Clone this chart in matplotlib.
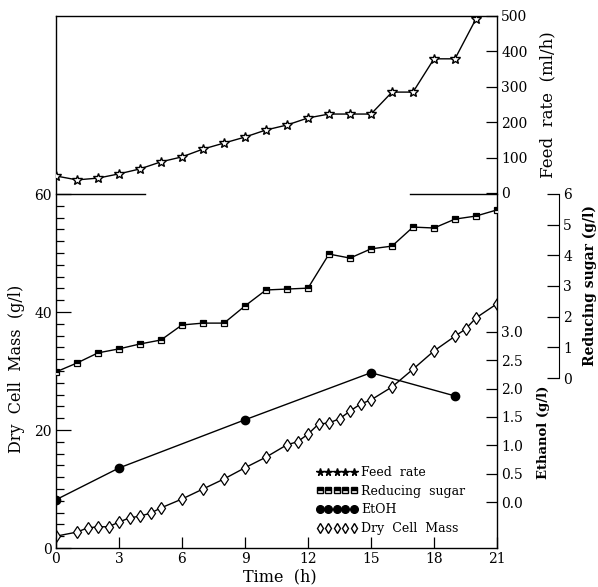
import numpy as np
import matplotlib
matplotlib.use("Agg")
import matplotlib.pyplot as plt
from matplotlib.lines import Line2D
from matplotlib.ticker import FormatStrFormatter

plt.rcParams['font.family'] = ['DejaVu Serif']

# ---- data ----
feed_time = [0, 1, 2, 3, 4, 5, 6, 7, 8, 9, 10, 11, 12, 13, 14, 15, 16, 17, 18, 19, 20]
feed_rate = [48, 37, 42, 54, 68, 88, 102, 124, 141, 158, 178, 192,
             212, 223, 223, 223, 285, 285, 379, 379, 492]

sugar_time = list(range(0, 22))
sugar = [0.20, 0.49, 0.82, 0.95, 1.11, 1.24, 1.73, 1.79, 1.79, 2.35, 2.87,
         2.90, 2.93, 4.04, 3.91, 4.21, 4.30, 4.92, 4.89, 5.18, 5.28, 5.48]

etoh_time = [0, 3, 9, 15, 19]
etoh = [0.04, 0.60, 1.45, 2.28, 1.87]

dcm_time = [0, 1, 1.5, 2, 2.5, 3, 3.5, 4, 4.5, 5, 6, 7, 8, 9, 10,
            11, 11.5, 12, 12.5, 13, 13.5, 14, 14.5, 15, 16, 17, 18, 19, 19.5, 20, 21]
dcm = [2.0, 2.7, 3.4, 3.6, 3.6, 4.4, 5.1, 5.4, 5.9, 6.8, 8.3, 10.0, 11.7, 13.6, 15.4,
       17.5, 18.0, 19.3, 21.0, 21.2, 21.9, 23.2, 24.4, 25.1, 27.3, 30.3, 33.4, 35.9, 37.1, 39.0, 41.4]

time_ticks = list(range(0, 22, 3))
dcm_ticks = [0, 20, 40, 60]
feed_ticks = [0, 100, 200, 300, 400, 500]
etoh_ticks = [0.0, 0.5, 1.0, 1.5, 2.0, 2.5, 3.0]
sugar_ticks = [0, 1, 2, 3, 4, 5, 6]

# ---- figure ----
W, H = 598, 587
fig = plt.figure(figsize=(W / 100, H / 100), dpi=100)
x0, x1, y_top, y_bot = 56, 497, 16, 548
ax = fig.add_axes([x0 / W, 1 - y_bot / H, (x1 - x0) / W, (y_bot - y_top) / H])

ax.set_xlim(0, 21)
ax.set_ylim(0, 90.17)
ax.set_xticks(time_ticks)
ax.set_yticks(dcm_ticks)
ax.set_yticks(np.arange(0, 61, 2), minor=True)
ax.tick_params(which='both', direction='in', labelsize=10, width=0.9)
ax.tick_params(axis='y', which='major', length=11, pad=3)
ax.tick_params(axis='y', which='minor', length=6)
ax.tick_params(axis='x', length=8, pad=3)
for s in ax.spines.values():
    s.set_linewidth(1.0)

# broken separator between the two panels
ax.plot([0, 4.24], [60, 60], color='k', lw=1.0, clip_on=False)
ax.plot([16.86, 21], [60, 60], color='k', lw=1.0, clip_on=False)

lk = dict(color='k', lw=1.0)

# dry cell mass
ax.plot(dcm_time, dcm, marker='d', ms=6.5, mfc='white', mec='k', mew=0.9, **lk)

# feed rate
axf = ax.twinx()
axf.set_ylim(-1003, 500)
axf.set_yticks(feed_ticks)
axf.tick_params(direction='in', length=8, labelsize=10, pad=3, width=0.9)
for s in axf.spines.values():
    s.set_visible(False)
axf.plot(feed_time, feed_rate, marker='*', ms=7.5, mfc='white', mec='k', mew=1.0, **lk)

# ethanol
axe = ax.twinx()
axe.set_ylim(-0.811, 8.57)
axe.set_yticks(etoh_ticks)
axe.yaxis.set_major_formatter(FormatStrFormatter('%.1f'))
axe.tick_params(direction='in', length=8, labelsize=10, pad=3, width=0.9)
for s in axe.spines.values():
    s.set_visible(False)
axe.plot(etoh_time, etoh, marker='o', ms=6, mfc='k', mec='k', **lk)

# reducing sugar on an offset spine
axs = ax.twinx()
axs.set_ylim(-5.54, 11.80)
axs.spines['right'].set_position(('axes', (559 - x0) / (x1 - x0)))
axs.spines['right'].set_bounds(0, 6)
for k in ['left', 'top', 'bottom']:
    axs.spines[k].set_visible(False)
axs.set_yticks(sugar_ticks)
axs.tick_params(direction='in', length=9, labelsize=10, pad=3, width=0.9)
axs.plot(sugar_time, sugar, marker='s', ms=5, fillstyle='top', mfc='k', mfcalt='white',
         mec='k', mew=0.9, **lk)

# axis titles
fig.text(17 / W, 1 - 369 / H, 'Dry  Cell  Mass  (g/l)', rotation=90,
         ha='center', va='center', fontsize=11.5)
fig.text(280 / W, 1 - 577 / H, 'Time  (h)', ha='center', va='center', fontsize=11.5)
fig.text(548 / W, 1 - 105 / H, 'Feed  rate  (ml/h)', rotation=90,
         ha='center', va='center', fontsize=12)
fig.text(590 / W, 1 - 286 / H, 'Reducing sugar (g/l)', rotation=90,
         ha='center', va='center', fontsize=10, fontweight='bold')
fig.text(543 / W, 1 - 432 / H, 'Ethanol (g/l)', rotation=90,
         ha='center', va='center', fontsize=9.5, fontweight='bold')

# legend
handles = [
    Line2D([], [], ls='none', marker='*', ms=5.5, mfc='k', mec='k'),
    Line2D([], [], ls='none', marker='s', ms=4.5, fillstyle='top', mfc='k',
           mfcalt='white', mec='k'),
    Line2D([], [], ls='none', marker='o', ms=5.5, mfc='k', mec='k'),
    Line2D([], [], ls='none', marker='d', ms=5.5, mfc='white', mec='k'),
]
labels = ['Feed  rate', 'Reducing  sugar', 'EtOH', 'Dry  Cell  Mass']
fig.legend(handles, labels, loc='upper left', bbox_to_anchor=(316 / W, 1 - 466 / H),
           frameon=False, numpoints=5, handlelength=3.3, handletextpad=0.3,
           labelspacing=0.45, fontsize=9, borderpad=0, borderaxespad=0)

fig.savefig('out.png', dpi=100)
